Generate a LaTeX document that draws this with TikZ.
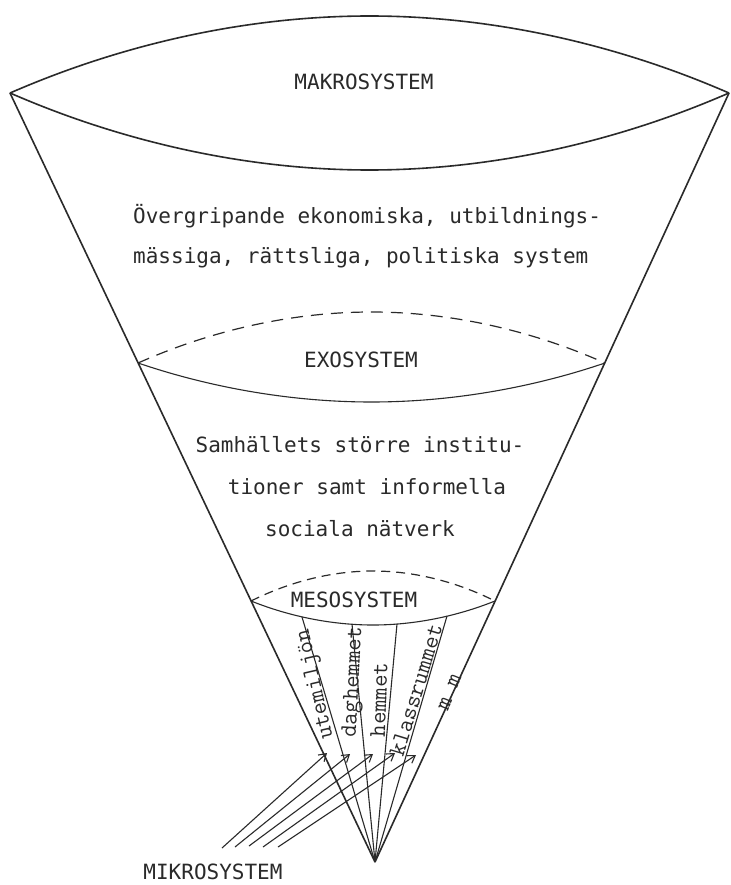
\documentclass[tikz,border=0pt]{standalone}
\usepackage{fontspec}
\newfontfamily\typew{DejaVu Sans Mono}
\usetikzlibrary{arrows.meta}
\definecolor{ink}{HTML}{2A2A2A}
\begin{document}
\begin{tikzpicture}[x=1pt,y=-1pt,
  ln/.style={draw=ink, line width=1.6pt},
  thinln/.style={draw=ink, line width=1.1pt},
  dsh/.style={draw=ink, line width=1.2pt, dash pattern=on 12pt off 8pt},
  dshs/.style={draw=ink, line width=1.2pt, dash pattern=on 9pt off 6pt},
  lbl/.style={font=\typew\fontsize{21}{25}\selectfont, text=ink, inner sep=0pt},
  fanlbl/.style={font=\ttfamily\fontsize{24}{26}\selectfont\addfontfeatures{FakeBold=0.4}, text=ink, inner sep=0pt},
  arr/.style={draw=ink, line width=1.1pt, -{Straight Barb[length=7pt,width=9pt]}}]
\useasboundingbox[fill=white] (0,0) rectangle (730,885);

% key points
\coordinate (LT) at (10,93);
\coordinate (RT) at (729,93);
\coordinate (A) at (375,862);
\coordinate (EL) at (138,363);
\coordinate (ER) at (605,363);
\coordinate (ML) at (251,601);
\coordinate (MR) at (495,601);
\coordinate (F1) at (302,617);
\coordinate (F2) at (352,624);
\coordinate (F3) at (397,624);
\coordinate (F4) at (447,616);

% makro lens
\draw[ln] (LT) parabola bend (369.5,16) (RT);
\draw[ln] (LT) parabola bend (369.5,170) (RT);
% cone
\draw[ln] (LT) -- (A);
\draw[ln] (RT) -- (A);
% exo lens
\draw[dsh] (EL) parabola bend (371.5,312) (ER);
\draw[thinln] (EL) parabola bend (371.5,402) (ER);
% meso lens
\draw[dshs] (ML) parabola bend (373,571) (MR);
\draw[thinln] (ML) parabola bend (373,625) (MR);
% fan
\foreach \f in {F1,F2,F3,F4} \draw[thinln] (A) -- (\f);

% texts
\node[lbl] (makro) at (364,82) {MAKROSYSTEM};
\node[lbl, anchor=west] (over1) at (133,216) {Övergripande ekonomiska, utbildnings-};
\node[lbl, anchor=west] (over2) at (133,258) {mässiga, rättsliga, politiska system};
\node[lbl] (exo) at (361,360) {EXOSYSTEM};
\node[lbl] (sam1) at (360,445) {Samhällets större institu-};
\node[lbl] (sam2) at (367,487) {tioner samt informella};
\node[lbl] (sam3) at (360,529) {sociala nätverk};
\node[lbl] (meso) at (354,600) {MESOSYSTEM};
\node[lbl] (mikro) at (213,872) {MIKROSYSTEM};

% fan labels
\node[fanlbl, rotate=103] (ute) at (316,684) {utemiljön};
\node[fanlbl, rotate=87] (dag) at (354,682) {daghemmet};
\node[fanlbl, rotate=88] (hem) at (379,700) {hemmet};
\node[fanlbl, rotate=73] (klass) at (416,690) {klassrummet};
\node[fanlbl, rotate=68] (mm) at (450,692) {m m};

% arrows
\coordinate (S1) at (222,848); \coordinate (T1) at (327,753);
\coordinate (S2) at (235,847); \coordinate (T2) at (350,754);
\coordinate (S3) at (249,846); \coordinate (T3) at (373,754);
\coordinate (S4) at (263,847); \coordinate (T4) at (395,753);
\coordinate (S5) at (278,847); \coordinate (T5) at (416,755);
\foreach \i in {1,...,5} \draw[arr] (S\i) -- (T\i);
\end{tikzpicture}
\end{document}
